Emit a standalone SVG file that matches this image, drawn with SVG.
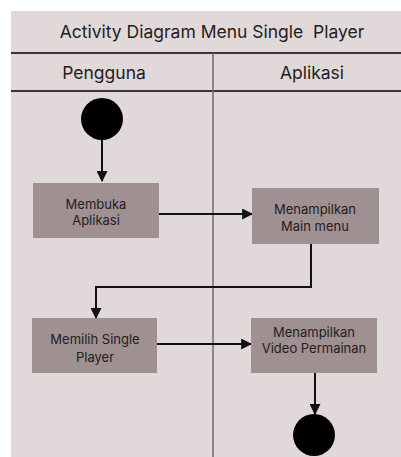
<svg xmlns="http://www.w3.org/2000/svg" width="401" height="457" viewBox="0 0 401 457">
  <defs>
    <style>
      .lbl { font-family: Inter, "Liberation Sans", sans-serif; fill: #232022; text-anchor: middle; }
      .head { font-size: 17.5px; }
      .act { font-size: 13px; }
      .box { fill: #9f9091; }
      .flow { fill: none; stroke: #111; stroke-width: 2; marker-end: url(#arrow); }
    </style>
    <marker id="arrow" viewBox="0 0 10 10" refX="9" refY="5" markerWidth="5.5" markerHeight="5.5" orient="auto" markerUnits="strokeWidth">
      <path d="M0,0 L10,5 L0,10 z" fill="#111"/>
    </marker>
  </defs>

  <rect x="0" y="0" width="401" height="457" fill="#ffffff"/>
  <!-- frame background -->
  <rect x="11" y="11" width="390" height="446" fill="#e1d9d9"/>

  <!-- title band and lane headers -->
  <g id="title">
    <text class="lbl head" x="212" y="38" xml:space="preserve" style="white-space:pre">Activity Diagram Menu Single  Player</text>
  </g>
  <line x1="11" y1="53" x2="401" y2="53" stroke="#3a3536" stroke-width="2"/>
  <line x1="11" y1="91" x2="401" y2="91" stroke="#3a3536" stroke-width="2"/>
  <line x1="213" y1="53" x2="213" y2="457" stroke="#6f6a6b" stroke-width="1.5"/>
  <g id="lane-pengguna">
    <text class="lbl head" x="104" y="79">Pengguna</text>
  </g>
  <g id="lane-aplikasi">
    <text class="lbl head" x="312" y="79">Aplikasi</text>
  </g>

  <!-- connectors -->
  <g id="connectors">
    <path class="flow" d="M102,140 V181"/>
    <path class="flow" d="M159,214 H252"/>
    <path class="flow" d="M311,244 V287 H96 V318"/>
    <path class="flow" d="M157,344 H251"/>
    <path class="flow" d="M315,373 V414"/>
  </g>

  <g id="start">
    <circle cx="102" cy="119" r="21" fill="#000"/>
  </g>

  <g id="membuka-aplikasi">
    <rect class="box" x="33" y="183" width="126" height="55"/>
    <text class="lbl act" x="96" y="209">Membuka</text>
    <text class="lbl act" x="96" y="225">Aplikasi</text>
  </g>

  <g id="menampilkan-main-menu">
    <rect class="box" x="252" y="188" width="127" height="56"/>
    <text class="lbl act" x="315" y="214">Menampilkan</text>
    <text class="lbl act" x="315" y="231">Main menu</text>
  </g>

  <g id="memilih-single-player">
    <rect class="box" x="32" y="318" width="125" height="55"/>
    <text class="lbl act" x="95" y="344">Memilih Single</text>
    <text class="lbl act" x="95" y="362">Player</text>
  </g>

  <g id="menampilkan-video">
    <rect class="box" x="251" y="318" width="126" height="55"/>
    <text class="lbl act" x="314" y="337">Menampilkan</text>
    <text class="lbl act" x="314" y="353">Video Permainan</text>
  </g>

  <g id="end">
    <circle cx="314" cy="435" r="21" fill="#000"/>
  </g>
</svg>
